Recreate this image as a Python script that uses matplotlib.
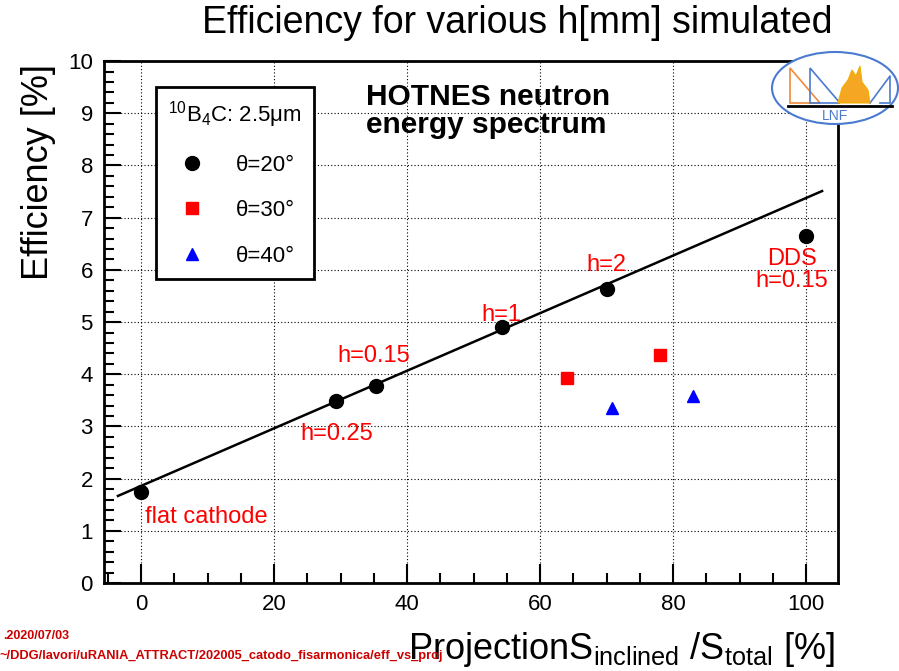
import matplotlib
matplotlib.use("Agg")
import matplotlib.pyplot as plt
from matplotlib.patches import Ellipse, Polygon
from matplotlib.lines import Line2D
from matplotlib.ticker import MultipleLocator

FONT = ['Liberation Sans', 'DejaVu Sans']
plt.rcParams['font.family'] = FONT
plt.rcParams['mathtext.fontset'] = 'custom'
plt.rcParams['mathtext.rm'] = 'Liberation Sans'
plt.rcParams['mathtext.it'] = 'Liberation Sans'

# ---- data ----
theta20_x = [0, 29.3, 35.3, 54.3, 70.0, 100.0]
theta20_y = [1.74, 3.49, 3.77, 4.90, 5.63, 6.65]
theta30_x = [64.0, 78.0]
theta30_y = [3.93, 4.37]
theta40_x = [70.8, 83.0]
theta40_y = [3.35, 3.58]
fit_x = [-3.5, 102.4]
fit_y = [1.67, 7.51]
labels_text = ["flat cathode", "h=0.25", "h=0.15", "h=1", "h=2", "DDS\nh=0.15"]
labels_x = [0.5, 29.4, 34.9, 54.1, 70.0, 97.9]
labels_y = [1.26, 2.85, 4.35, 5.13, 6.09, 6.0]
legend_labels = ["θ=20°", "θ=30°", "θ=40°"]

fig = plt.figure(figsize=(8.99, 6.71), dpi=100)
ax = fig.add_axes([0.1157, 0.131, 0.8165, 0.778])
ax.set_xlim(-5.6, 104.8)
ax.set_ylim(0, 10)

ax.xaxis.set_major_locator(MultipleLocator(20))
ax.xaxis.set_minor_locator(MultipleLocator(5))
ax.yaxis.set_major_locator(MultipleLocator(1))
ax.yaxis.set_minor_locator(MultipleLocator(0.2))
ax.tick_params(which='both', direction='in', top=False, right=False, width=1.5, labelsize=16, pad=8)
ax.tick_params(which='major', length=14)
ax.tick_params(which='minor', length=7)
ax.tick_params(axis='y', which='major', length=12)
ax.tick_params(axis='y', which='minor', length=7)
for s in ax.spines.values():
    s.set_linewidth(2)
ax.grid(True, which='major', linestyle=(0, (1, 2)), color='black', linewidth=0.8)
ax.set_axisbelow(True)

ax.plot(fit_x, fit_y, color='black', linewidth=1.8, zorder=3)
h20, = ax.plot(theta20_x, theta20_y, 'o', color='black', markersize=10, linestyle='none', zorder=4)
h30, = ax.plot(theta30_x, theta30_y, 's', color='red', markersize=9, linestyle='none', zorder=4)
h40, = ax.plot(theta40_x, theta40_y, '^', color='blue', markersize=9, linestyle='none', zorder=4)

for t, x, y in zip(labels_text, labels_x, labels_y):
    ha = 'left' if t == "flat cathode" else 'center'
    ax.text(x, y, t, color='red', fontsize=17, ha=ha, va='center', linespacing=1.0)

leg = ax.legend([h20, h30, h40], legend_labels, title=r"$^{10}$B$_4$C: 2.5μm",
                loc='upper left', bbox_to_anchor=(0.071, 0.950), borderaxespad=0,
                frameon=True, fancybox=False, edgecolor='black',
                framealpha=1, labelspacing=1.1, handletextpad=1.2, borderpad=0.55,
                handlelength=1.5, prop={'size': 16}, title_fontsize=16)
leg.get_frame().set_linewidth(2)

ax.text(0.357, 0.958, "HOTNES neutron\nenergy spectrum", transform=ax.transAxes,
        fontsize=21.5, fontweight='bold', ha='left', va='top', linespacing=1.0)

fig.text(0.575, 0.966, "Efficiency for various h[mm] simulated", ha='center', va='center', fontsize=27)
ax.set_ylabel("Efficiency [%]", fontsize=26)
ax.yaxis.set_label_coords(-0.066, 0.787)
fig.text(0.929, 0.032, r"Projection$\mathregular{S_{inclined}}$ /$\mathregular{S_{total}}$ [%]",
         ha='right', va='center', fontsize=26)

fig.text(0.003, 0.052, ".2020/07/03", color='#cc0000', fontsize=9, fontweight='bold',
         ha='left', va='center')
fig.text(0.0, 0.022, "~/DDG/lavori/uRANIA_ATTRACT/202005_catodo_fisarmonica/eff_vs_proj",
         color='#cc0000', fontsize=9.3, fontweight='bold', ha='left', va='center')

# LNF logo
W, H = 899.0, 671.0
def P(x, y):
    return (x / W, 1 - y / H)
blue = '#4a7bd0'
orange = '#f08a3c'
ell = Ellipse(P(835, 88), 126 / W, 72 / H, transform=fig.transFigure, facecolor='white',
              edgecolor=blue, linewidth=1.5, zorder=10)
fig.patches.append(ell)
for pts, col in [([(790, 68), (790, 103), (820, 103)], orange),
                 ([(810, 68), (810, 103), (840, 103)], blue)]:
    fig.patches.append(Polygon([P(*p) for p in pts], closed=True, fill=False, edgecolor=col,
                               linewidth=1.2, transform=fig.transFigure, zorder=11))
flame = Polygon([P(*p) for p in [(838, 103), (842, 88), (848, 80), (852, 70), (856, 76), (860, 66),
                                 (862, 82), (868, 90), (870, 103)]],
                closed=True, facecolor='#f5a623', edgecolor='#f0b000', linewidth=0.8,
                transform=fig.transFigure, zorder=11)
fig.patches.append(flame)
fig.lines.append(Line2D([870 / W, 890 / W, 890 / W, 880 / W], [1 - 103 / H, 1 - 76 / H, 1 - 103 / H, 1 - 103 / H],
                        color=blue, linewidth=1.2, transform=fig.transFigure, zorder=11))
fig.lines.append(Line2D([788 / W, 892 / W], [1 - 106 / H, 1 - 106 / H], color='black', linewidth=2,
                        transform=fig.transFigure, zorder=11))
fig.text(835 / W, 1 - 116 / H, "LNF", color=blue, fontsize=10, ha='center', va='center', zorder=12)

fig.savefig("out.png", dpi=100)
